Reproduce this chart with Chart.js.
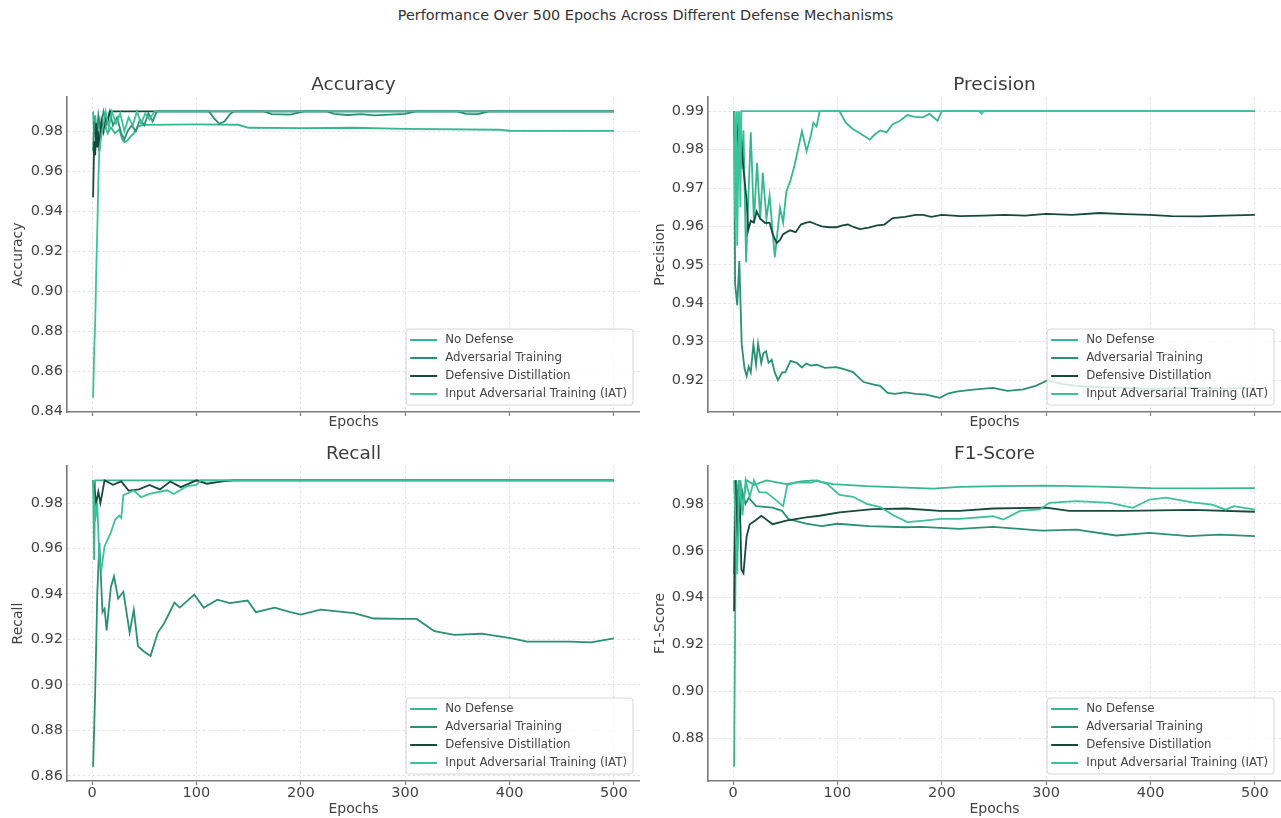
<!DOCTYPE html>
<html>
<head>
<meta charset="utf-8">
<title>Performance Over 500 Epochs</title>
<script src="https://cdn.jsdelivr.net/npm/chart.js@4.4.1/dist/chart.umd.min.js"></script>
<style>
  body { margin: 0; background: #fff; }
  #page { position: relative; width: 1281px; height: 818px; font-family: "DejaVu Sans", sans-serif; }
  #suptitle { position: absolute; left: 5px; top: 7px; width: 1281px; text-align: center; font-size: 14.4px; color: #333; }
  canvas { position: absolute; }
</style>
</head>
<body>
<div id="page">
  <div id="suptitle">Performance Over 500 Epochs Across Different Defense Mechanisms</div>
  <canvas id="accChart" width="640" height="440" style="left:0;top:0"></canvas>
  <canvas id="precChart" width="641" height="440" style="left:640px;top:0"></canvas>
  <canvas id="recChart" width="640" height="378" style="left:0;top:440px"></canvas>
  <canvas id="f1Chart" width="641" height="378" style="left:640px;top:440px"></canvas>
</div>
<script>
// series names (legend order)
const seriesNames = ['No Defense', 'Adversarial Training', 'Defensive Distillation', 'Input Adversarial Training (IAT)'];
const seriesColors = ['#35b890', '#2a9173', '#174a3b', '#3cc29a'];

const epochTicks = [0, 100, 200, 300, 400, 500];
const accuracyTicks = [0.84, 0.86, 0.88, 0.90, 0.92, 0.94, 0.96, 0.98];
const precisionTicks = [0.92, 0.93, 0.94, 0.95, 0.96, 0.97, 0.98, 0.99];
const recallTicks = [0.86, 0.88, 0.90, 0.92, 0.94, 0.96, 0.98];
const f1Ticks = [0.88, 0.90, 0.92, 0.94, 0.96, 0.98];

// [epoch, value] pairs
const accuracyNoDefense = [[1,0.99],[2,0.978],[3,0.988],[5,0.976],[7,0.985],[9,0.979],[12,0.984],[15,0.979],[18,0.982],[22,0.979],[26,0.981],[29,0.976],[31,0.9745],[34,0.9755],[37,0.9775],[40,0.979],[44,0.9825],[50,0.9832],[100,0.9835],[140,0.9833],[150,0.9818],[200,0.9816],[250,0.9818],[300,0.9812],[390,0.9808],[400,0.9803],[500,0.9802]];
const accuracyAdversarial = [[1,0.97],[2,0.985],[4,0.975],[6,0.988],[8,0.981],[11,0.99],[14,0.984],[17,0.99],[20,0.983],[24,0.987],[28,0.979],[31,0.976],[34,0.98],[38,0.983],[42,0.98],[46,0.986],[50,0.983],[54,0.989],[58,0.985],[62,0.99],[112,0.99],[117,0.9865],[122,0.9838],[127,0.985],[132,0.9885],[136,0.99],[165,0.99],[172,0.9886],[190,0.9884],[203,0.99],[225,0.99],[232,0.9888],[245,0.9882],[258,0.9886],[270,0.988],[285,0.9884],[300,0.9887],[310,0.99],[350,0.99],[358,0.9888],[370,0.9886],[380,0.99],[500,0.99]];
const accuracyDistillation = [[1,0.947],[2,0.975],[3,0.968],[4,0.984],[5,0.972],[6,0.98],[7,0.97],[9,0.985],[11,0.98],[13,0.988],[15,0.985],[17,0.99],[500,0.99]];
const accuracyIAT = [[1,0.8467],[2,0.87],[3,0.884],[4,0.91],[5,0.93],[6,0.955],[7,0.971],[9,0.978],[11,0.984],[13,0.99],[16,0.982],[19,0.99],[23,0.984],[27,0.989],[31,0.98],[35,0.987],[39,0.983],[43,0.99],[47,0.984],[51,0.989],[55,0.986],[60,0.99],[500,0.99]];

const precisionNoDefense = [[1,0.99],[3,0.97],[5,0.99],[8,0.975],[10,0.985],[12.5,0.9507],[15,0.97],[17,0.9845],[20,0.961],[23,0.9766],[26,0.962],[28.5,0.974],[32,0.962],[35,0.968],[40,0.952],[45,0.9648],[48,0.961],[51,0.969],[55,0.972],[59,0.976],[63,0.981],[66,0.9848],[70.5,0.9796],[74,0.983],[77,0.987],[80,0.986],[83,0.99],[102,0.99],[108,0.987],[115,0.9853],[122,0.9842],[131,0.9826],[136,0.984],[141,0.985],[147,0.9845],[153,0.9866],[160,0.9875],[167,0.989],[174,0.9885],[182,0.9884],[188,0.9893],[196,0.9875],[200,0.99],[500,0.99]];
const precisionAdversarial = [[1,0.99],[2,0.945],[4,0.9395],[6,0.951],[8.3,0.9293],[11,0.923],[13,0.921],[15,0.9235],[17,0.922],[19.5,0.9293],[22,0.924],[24,0.9295],[27,0.9245],[29,0.927],[31.6,0.9275],[34,0.9245],[37,0.9253],[40,0.922],[43,0.92],[47,0.922],[50,0.922],[55,0.925],[61,0.9245],[66,0.9233],[70,0.9243],[75,0.9238],[80,0.924],[88,0.9232],[99,0.9234],[107,0.9228],[115,0.9221],[125,0.9195],[134,0.9189],[141,0.9185],[148,0.9167],[155,0.9164],[165,0.9168],[175,0.9164],[185,0.9162],[198,0.9154],[206,0.9165],[214,0.917],[230,0.9175],[249,0.918],[263,0.9172],[278,0.9176],[290,0.9185],[301,0.9199],[315,0.919],[329,0.9185],[350,0.9182],[376,0.918],[400,0.9177],[440,0.918],[470,0.9178],[500,0.918]];
const precisionDistillation = [[1,0.99],[2,0.98],[3,0.987],[5,0.982],[7,0.985],[10,0.9748],[13,0.9669],[14.5,0.959],[17,0.9615],[20,0.961],[22.6,0.9639],[26,0.962],[30.7,0.9609],[35,0.961],[38,0.958],[41.8,0.9557],[45,0.9565],[48,0.958],[54.6,0.959],[60,0.9585],[65,0.9605],[70,0.961],[74,0.9612],[80,0.9605],[85,0.96],[92,0.9598],[99,0.9598],[105,0.9603],[110,0.9605],[116,0.9598],[121.6,0.9593],[130,0.9597],[138,0.9603],[145,0.9605],[153,0.9622],[165,0.9625],[175,0.963],[182,0.963],[190,0.9625],[200,0.963],[218,0.9627],[240,0.9628],[260,0.963],[280,0.9628],[300,0.9633],[325,0.963],[351,0.9635],[375,0.9632],[399,0.963],[420,0.9627],[447,0.9626],[470,0.9628],[500,0.963]];
const precisionIAT = [[1,0.99],[2,0.962],[3,0.99],[4,0.955],[5,0.975],[6,0.99],[7,0.965],[8,0.99],[236,0.99],[238,0.9893],[240,0.99],[500,0.99]];

const recallNoDefense = [[1,0.99],[2,0.955],[3,0.99],[500,0.99]];
const recallAdversarial = [[1,0.864],[3,0.897],[5,0.94],[7,0.9625],[10,0.932],[12,0.9335],[14,0.924],[18,0.943],[21,0.9477],[25,0.938],[30,0.941],[36,0.923],[40,0.933],[44,0.917],[50,0.9146],[56,0.9127],[63,0.923],[69,0.927],[79,0.9362],[84,0.934],[98,0.9397],[107,0.9339],[120,0.9375],[132,0.936],[149,0.9371],[157,0.932],[175,0.934],[190,0.932],[200,0.9309],[219,0.9331],[251,0.9316],[270,0.9292],[299,0.929],[311,0.929],[328,0.9236],[347,0.922],[373,0.9225],[401,0.9206],[417,0.919],[438,0.919],[458,0.919],[478,0.9187],[500,0.9205]];
const recallDistillation = [[1,0.99],[4,0.98],[6,0.985],[8,0.98],[12,0.99],[20,0.988],[28,0.9895],[35,0.9855],[45,0.986],[55,0.988],[65,0.986],[75,0.9895],[85,0.987],[100,0.99],[110,0.9885],[125,0.9895],[135,0.99],[500,0.99]];
const recallIAT = [[1,0.99],[3,0.972],[5,0.98],[7,0.955],[9,0.951],[12,0.961],[18,0.967],[22,0.9726],[26,0.9745],[28,0.9735],[30,0.9835],[40,0.9855],[47,0.9826],[55,0.984],[72,0.9856],[78,0.984],[91,0.9874],[100,0.988],[104,0.99],[500,0.99]];

const f1NoDefense = [[1,0.868],[3,0.99],[5,0.975],[7,0.99],[10,0.98],[13,0.99],[20,0.988],[32,0.99],[51,0.9884],[65,0.9895],[77,0.99],[96,0.9884],[128,0.9875],[160,0.987],[192,0.9865],[217,0.9872],[256,0.9875],[300,0.9877],[350,0.9873],[400,0.9867],[450,0.9866],[500,0.9867]];
const f1Adversarial = [[1,0.95],[3,0.99],[6,0.975],[9,0.985],[12,0.98],[15,0.9825],[22,0.979],[38,0.9784],[47,0.977],[53,0.9735],[70,0.9715],[85,0.9705],[100,0.9715],[130,0.9705],[165,0.97],[180,0.9702],[217,0.9693],[249,0.9702],[296,0.9686],[329,0.969],[367,0.9665],[399,0.9676],[437,0.9662],[466,0.9669],[500,0.9662]];
const f1Distillation = [[1,0.9342],[2,0.99],[4,0.96],[6,0.99],[8,0.952],[10,0.9505],[13,0.9661],[16,0.9713],[21,0.9728],[27,0.9749],[38,0.9713],[51,0.9728],[70,0.9742],[83,0.9749],[102,0.9763],[134,0.9777],[166,0.978],[198,0.977],[217,0.977],[249,0.978],[300,0.9784],[322,0.977],[376,0.977],[440,0.9774],[500,0.9766]];
const f1IAT = [[1,0.99],[4,0.95],[6,0.99],[9,0.975],[12,0.99],[16,0.983],[20,0.99],[25,0.985],[32,0.9848],[40,0.982],[48,0.979],[52,0.9881],[60,0.989],[75,0.989],[80,0.99],[90,0.9885],[102,0.9838],[115,0.983],[128,0.98],[141,0.9786],[154,0.975],[167,0.9722],[183,0.9728],[199,0.9736],[217,0.9736],[249,0.9747],[259,0.9733],[275,0.977],[294,0.9776],[303,0.9804],[329,0.9811],[361,0.9804],[383,0.9783],[399,0.9818],[415,0.9826],[440,0.9806],[459,0.9796],[472,0.9775],[480,0.979],[500,0.9775]];

const FONT = '"DejaVu Sans", sans-serif';

// subplot title + legend box in lower right of the plot area
const panelDecor = {
  id: 'panelDecor',
  afterDraw(chart, args, opts) {
    const ctx = chart.ctx;
    const a = chart.chartArea;
    ctx.save();
    ctx.font = '18.5px ' + FONT;
    ctx.fillStyle = '#3c3c3c';
    ctx.textAlign = 'center';
    ctx.textBaseline = 'middle';
    ctx.fillText(opts.title, (a.left + a.right) / 2, a.top - 12);

    ctx.font = '11.8px ' + FONT;
    let tw = 0;
    chart.data.datasets.forEach(ds => { tw = Math.max(tw, ctx.measureText(ds.label).width); });
    const w = tw + 45, h = 76;
    const x0 = a.right - 7 - w, y0 = a.bottom - 7 - h;
    ctx.beginPath();
    ctx.roundRect(x0, y0, w, h, 3);
    ctx.fillStyle = 'rgba(255,255,255,0.8)';
    ctx.fill();
    ctx.strokeStyle = '#d6d6d6';
    ctx.lineWidth = 1;
    ctx.stroke();
    ctx.textAlign = 'left';
    chart.data.datasets.forEach((ds, i) => {
      const y = y0 + 11 + i * 18;
      ctx.beginPath();
      ctx.moveTo(x0 + 4, y);
      ctx.lineTo(x0 + 31, y);
      ctx.strokeStyle = ds.borderColor;
      ctx.lineWidth = 2;
      ctx.stroke();
      ctx.fillStyle = '#444';
      ctx.fillText(ds.label, x0 + 39, y);
    });
    ctx.restore();
  }
};

function buildPanel(id, cfg) {
  return new Chart(document.getElementById(id), {
    type: 'line',
    data: {
      datasets: cfg.series.map((pts, i) => ({
        label: seriesNames[i],
        data: pts,
        borderColor: seriesColors[i],
        borderWidth: 1.8,
        pointRadius: 0,
        tension: 0,
        fill: false,
        order: 3 - i
      }))
    },
    options: {
      responsive: false,
      animation: false,
      devicePixelRatio: 1,
      layout: { padding: { top: cfg.padTop, left: 0, right: 0, bottom: 0 } },
      plugins: {
        legend: { display: false },
        tooltip: { enabled: false },
        panelDecor: { title: cfg.title }
      },
      scales: {
        x: {
          type: 'linear',
          min: -24,
          max: 525,
          afterBuildTicks: s => { s.ticks = epochTicks.map(v => ({ value: v })); },
          afterFit: s => { s.height = cfg.xAxisHeight; },
          ticks: { display: cfg.epochLabels, autoSkip: false, padding: 0, color: '#444', font: { size: 14.5, family: FONT } },
          grid: { color: '#dcdcdc', lineWidth: 0.8, drawTicks: true, tickLength: 4, tickColor: '#7a7a7a', tickWidth: 1.2 },
          border: { display: true, color: '#7a7a7a', width: 1.6, dash: [2.5, 2.5] },
          title: { display: true, text: 'Epochs', color: '#444', font: { size: 14, family: FONT }, padding: { top: 0, bottom: cfg.xTitlePad } }
        },
        y: {
          min: cfg.yMin,
          max: cfg.yMax,
          afterBuildTicks: s => { s.ticks = cfg.yTicks.map(v => ({ value: v })); },
          afterFit: s => { s.width = cfg.yAxisWidth; },
          ticks: { autoSkip: false, padding: 4, color: '#444', font: { size: 14.5, family: FONT }, callback: v => v.toFixed(2) },
          grid: { color: '#dcdcdc', lineWidth: 0.8, drawTicks: false },
          border: { display: true, color: '#7a7a7a', width: 1.6, dash: [2.5, 2.5] },
          title: { display: true, text: cfg.yLabel, color: '#444', font: { size: 14, family: FONT }, padding: { top: cfg.yTitlePad, bottom: 0 } }
        }
      }
    },
    plugins: [panelDecor]
  });
}

buildPanel('accChart', {
  title: 'Accuracy', yLabel: 'Accuracy', yMin: 0.8395, yMax: 0.9972, yTicks: accuracyTicks,
  series: [accuracyNoDefense, accuracyAdversarial, accuracyDistillation, accuracyIAT],
  padTop: 97, xAxisHeight: 28, yAxisWidth: 67, epochLabels: false, xTitlePad: 9, yTitlePad: 9.5
});
buildPanel('precChart', {
  title: 'Precision', yLabel: 'Precision', yMin: 0.9117, yMax: 0.9937, yTicks: precisionTicks,
  series: [precisionNoDefense, precisionAdversarial, precisionDistillation, precisionIAT],
  padTop: 97, xAxisHeight: 28, yAxisWidth: 68, epochLabels: false, xTitlePad: 9, yTitlePad: 11.5
});
buildPanel('recChart', {
  title: 'Recall', yLabel: 'Recall', yMin: 0.8577, yMax: 0.9963, yTicks: recallTicks,
  series: [recallNoDefense, recallAdversarial, recallDistillation, recallIAT],
  padTop: 26, xAxisHeight: 37, yAxisWidth: 67, epochLabels: true, xTitlePad: 0.6, yTitlePad: 9.5
});
buildPanel('f1Chart', {
  title: 'F1-Score', yLabel: 'F1-Score', yMin: 0.8619, yMax: 0.9961, yTicks: f1Ticks,
  series: [f1NoDefense, f1Adversarial, f1Distillation, f1IAT],
  padTop: 26, xAxisHeight: 37, yAxisWidth: 68, epochLabels: true, xTitlePad: 0.6, yTitlePad: 11.5
});
</script>
</body>
</html>
